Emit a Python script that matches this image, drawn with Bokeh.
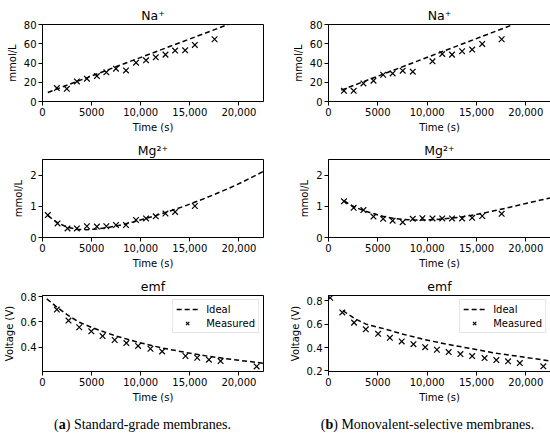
from bokeh.plotting import figure
from bokeh.models import Range1d, FixedTicker, Div, Legend, LegendItem
from bokeh.layouts import row, column
from bokeh.embed import file_html
from bokeh.resources import INLINE

# ---------------- data ----------------
x_ticks = [0, 5000, 10000, 15000, 20000]
x_tick_labels = ["0", "5000", "10,000", "15,000", "20,000"]
x_max = 22500

na_ticks = [0, 20, 40, 60, 80]
mg_ticks = [0, 1, 2]
emf_a_ticks = [0.4, 0.6, 0.8]
emf_b_ticks = [0.2, 0.4, 0.6, 0.8]

# (a) standard-grade membranes
na_a_t = [1460, 2480, 3500, 4520, 5540, 6500, 7480, 8500, 9520, 10540, 11530, 12520, 13500, 14520, 15510, 17520]
na_a_v = [13.9, 13.2, 20.9, 23.7, 26.4, 30.3, 34.1, 32.3, 40.3, 42.8, 45.9, 48.7, 52.9, 53.2, 58.8, 64.7]
na_a_ideal_t = [540, 18900]
na_a_ideal_v = [9.4, 80.0]

mg_a_t = [540, 1530, 2550, 3500, 4520, 5540, 6500, 7480, 8500, 9520, 10540, 11530, 12520, 13500, 15510]
mg_a_v = [0.72, 0.45, 0.29, 0.29, 0.36, 0.35, 0.36, 0.40, 0.40, 0.56, 0.61, 0.68, 0.77, 0.82, 1.01]
mg_a_ideal_t = [540, 1500, 2500, 3500, 4500, 5500, 6500, 7500, 8500, 9500, 10500, 11500, 12500,
                13500, 15000, 16000, 17500, 19000, 20500, 22500]
mg_a_ideal_v = [0.70, 0.48, 0.33, 0.26, 0.25, 0.27, 0.31, 0.37, 0.44, 0.52, 0.61, 0.70, 0.80,
                0.90, 1.07, 1.19, 1.38, 1.58, 1.80, 2.12]

emf_a_t = [1460, 2650, 3740, 4970, 6120, 7350, 8540, 9730, 10990, 12180, 14560, 15750, 16940, 18130, 21800]
emf_a_v = [0.697, 0.611, 0.558, 0.526, 0.489, 0.458, 0.434, 0.411, 0.389, 0.368, 0.332, 0.318, 0.303, 0.292, 0.250]
emf_a_ideal_t = [440, 1460, 2650, 3740, 4970, 7350, 9730, 12180, 14560, 16940, 19490, 22500]
emf_a_ideal_v = [0.782, 0.716, 0.650, 0.597, 0.558, 0.492, 0.440, 0.395, 0.360, 0.329, 0.303, 0.275]

# (b) monovalent-selective membranes
na_b_t = [1570, 2550, 3540, 4560, 5540, 6500, 7520, 8540, 10540, 11530, 12520, 13540, 14560, 15580, 17550]
na_b_v = [11.1, 11.1, 18.8, 21.6, 27.8, 29.2, 32.0, 31.0, 41.7, 49.4, 48.7, 52.2, 53.9, 59.8, 64.7]
na_b_ideal_t = [1290, 18740]
na_b_ideal_v = [11.8, 80.0]

mg_b_t = [1570, 2550, 3540, 4560, 5540, 6500, 7520, 8540, 9520, 10540, 11530, 12520, 13540, 14560, 15580, 17550]
mg_b_v = [1.16, 0.95, 0.88, 0.67, 0.60, 0.54, 0.49, 0.60, 0.62, 0.61, 0.61, 0.61, 0.61, 0.63, 0.69, 0.76]
mg_b_ideal_t = [1570, 2500, 3500, 4500, 5500, 6500, 7500, 8500, 9500, 10500, 11500, 12500, 13500,
                14500, 15500, 17000, 18500, 20000, 21500, 22500]
mg_b_ideal_v = [1.17, 1.00, 0.87, 0.77, 0.68, 0.62, 0.58, 0.56, 0.56, 0.57, 0.59, 0.62, 0.66,
                0.71, 0.77, 0.87, 0.98, 1.09, 1.20, 1.27]

emf_b_t = [170, 1400, 2590, 3780, 5030, 6220, 7420, 8610, 9800, 10990, 12180, 13370, 14560, 15820,
           17010, 18200, 19390, 21770]
emf_b_v = [0.825, 0.700, 0.613, 0.556, 0.517, 0.483, 0.452, 0.429, 0.403, 0.381, 0.361, 0.344, 0.327,
           0.310, 0.293, 0.282, 0.267, 0.239]
emf_b_ideal_t = [1460, 2600, 3800, 5710, 7420, 9800, 12180, 14560, 16940, 19320, 22500]
emf_b_ideal_v = [0.715, 0.650, 0.600, 0.559, 0.517, 0.466, 0.426, 0.389, 0.352, 0.324, 0.285]

titles = ["Na\u207a", "Mg\u00b2\u207a", "emf"]
captions = ["(<b>a</b>) Standard-grade membranes.", "(<b>b</b>) Monovalent-selective membranes."]

FONT = "DejaVu Sans"


def make_fig(width, height, bl, br, bt, bb, title, yr, yticks, ylabel,
             ideal_t, ideal_v, meas_t, meas_v, legend=False):
    p = figure(width=width, height=height, x_range=Range1d(0, x_max), y_range=Range1d(*yr),
               output_backend="svg", toolbar_location=None,
               min_border_left=bl, min_border_right=br, min_border_top=bt, min_border_bottom=bb,
               title=title)
    p.title.align = "center"
    p.title.text_font = FONT
    p.title.text_font_style = "normal"
    p.title.text_font_size = "12.5px"
    p.title.text_color = "black"
    p.title.standoff = 3
    p.xgrid.visible = False
    p.ygrid.visible = False
    p.outline_line_color = "black"
    p.outline_line_width = 1
    p.background_fill_color = "white"
    p.border_fill_color = "white"

    for ax, ticks in ((p.xaxis[0], x_ticks), (p.yaxis[0], yticks)):
        ax.ticker = FixedTicker(ticks=ticks, minor_ticks=[])
        ax.major_tick_out = 4
        ax.major_tick_in = 0
        ax.major_tick_line_color = "black"
        ax.axis_line_color = "black"
        ax.major_label_text_font = FONT
        ax.major_label_text_font_size = "10px"
        ax.major_label_text_color = "black"
        ax.major_label_standoff = 2
        ax.axis_label_text_font = FONT
        ax.axis_label_text_font_size = "10px"
        ax.axis_label_text_font_style = "normal"
        ax.axis_label_text_color = "black"
        ax.axis_label_standoff = 3
    p.xaxis[0].major_label_overrides = {t: l for t, l in zip(x_ticks, x_tick_labels)}
    p.yaxis[0].major_label_overrides = {t: (f"{t:g}") for t in yticks}
    p.xaxis[0].axis_label = "Time (s)"
    p.yaxis[0].axis_label = ylabel

    r_ideal = p.line(ideal_t, ideal_v, line_color="black", line_width=1.5, line_dash="5 3")
    r_meas = p.scatter(meas_t, meas_v, marker="x", size=8, line_color="black", line_width=1.2)
    if legend:
        lg = Legend(items=[LegendItem(label="Ideal", renderers=[r_ideal]),
                           LegendItem(label="Measured", renderers=[r_meas])],
                    location="top_right")
        lg.label_text_font = FONT
        lg.label_text_font_size = "10px"
        lg.label_text_color = "black"
        lg.glyph_width = 22
        lg.glyph_height = 12
        lg.label_height = 12
        lg.spacing = 2
        lg.padding = 3
        lg.margin = 4
        lg.label_standoff = 8
        lg.border_line_color = "#cccccc"
        lg.border_line_width = 1
        lg.background_fill_alpha = 0.8
        p.add_layout(lg)
    return p


def make_column(bl, br, na, mg, emf, emf_ticks, emf_range, caption):
    w = 275
    f1 = make_fig(w, 137, bl, br, 24, 36, titles[0], (0, 80), na_ticks, "mmol/L", *na)
    f2 = make_fig(w, 136, bl, br, 22, 36, titles[1], (0, 2.5), mg_ticks, "mmol/L", *mg)
    f3 = make_fig(w, 135, bl, br, 22, 37, titles[2], emf_range, emf_ticks, "Voltage (V)", *emf, legend=True)
    d = Div(text=caption, width=w, height=24,
            styles={"font-family": "Liberation Serif", "font-size": "14px", "text-align": "center",
                    "line-height": "24px", "color": "black", "width": f"{w}px"})
    return column(f1, f2, f3, d)


col_a = make_column(42, 12,
                    (na_a_ideal_t, na_a_ideal_v, na_a_t, na_a_v),
                    (mg_a_ideal_t, mg_a_ideal_v, mg_a_t, mg_a_v),
                    (emf_a_ideal_t, emf_a_ideal_v, emf_a_t, emf_a_v),
                    emf_a_ticks, (0.21, 0.808), captions[0])
col_b = make_column(43, 10,
                    (na_b_ideal_t, na_b_ideal_v, na_b_t, na_b_v),
                    (mg_b_ideal_t, mg_b_ideal_v, mg_b_t, mg_b_v),
                    (emf_b_ideal_t, emf_b_ideal_v, emf_b_t, emf_b_v),
                    emf_b_ticks, (0.195, 0.845), captions[1])

layout = row(col_a, col_b)

with open("out.html", "w") as f:
    f.write(file_html(layout, INLINE))
